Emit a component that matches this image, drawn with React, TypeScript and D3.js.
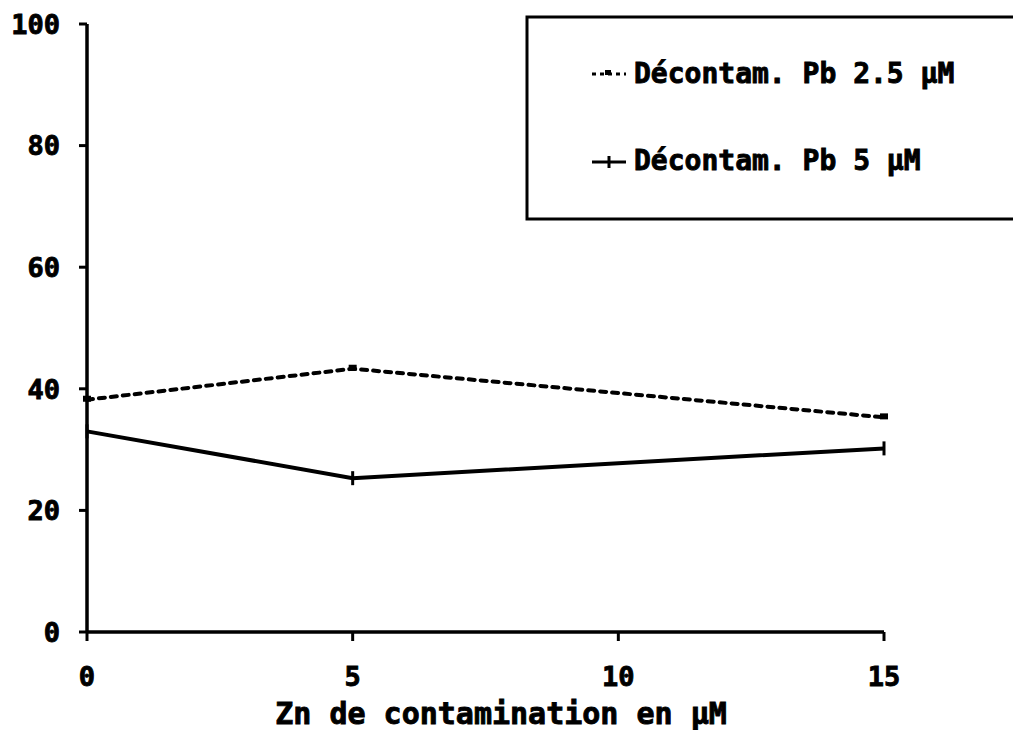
import React from "react";
import * as d3 from "d3";

const xValues = [0, 5, 15];
const seriesDashed = [38.2, 43.3, 35.3];
const seriesSolid = [33, 25.3, 30.2];
const xTicks = [0, 5, 10, 15];
const yTicks = [0, 20, 40, 60, 80, 100];
const legendLabels = ["Décontam. Pb 2.5 µM", "Décontam. Pb 5 µM"];
const xTitle = "Zn de contamination en µM";

const FONT = "'DejaVu Sans Mono', monospace";
const textStyle = { fontFamily: FONT, fontWeight: "bold" as const, fill: "#000", stroke: "#000", strokeWidth: 0.9 };

export default function App() {
  const W = 1013, H = 730;
  const x = d3.scaleLinear().domain([0, 15]).range([87, 884]);
  const y = d3.scaleLinear().domain([0, 100]).range([632, 24]);
  const line = d3.line<number>().x((_, i) => x(xValues[i])).y((d) => y(d));

  return (
    <svg width={W} height={H} style={{ position: "absolute", left: 0, top: 0, background: "#fff" }}>
      {/* axes */}
      <line x1={x(0)} x2={x(0)} y1={y(100)} y2={y(0)} stroke="#000" strokeWidth={3.5} />
      <line x1={x(0)} x2={x(15)} y1={y(0)} y2={y(0)} stroke="#000" strokeWidth={3.5} />
      {yTicks.map((t) => (
        <g key={"y" + t}>
          <line x1={x(0) - 8} x2={x(0)} y1={y(t)} y2={y(t)} stroke="#000" strokeWidth={3} />
          <text x={60} y={y(t)} dy="0.36em" textAnchor="end" fontSize={27} style={textStyle}>
            {t}
          </text>
        </g>
      ))}
      {xTicks.map((t) => (
        <g key={"x" + t}>
          <line x1={x(t)} x2={x(t)} y1={y(0)} y2={y(0) + 9} stroke="#000" strokeWidth={3} />
          <text x={x(t)} y={676} dy="0.36em" textAnchor="middle" fontSize={27} style={textStyle}>
            {t}
          </text>
        </g>
      ))}
      <text x={501} y={713} dy="0.36em" textAnchor="middle" fontSize={30} style={textStyle}>
        {xTitle}
      </text>

      {/* series */}
      <path d={line(seriesDashed) || ""} fill="none" stroke="#000" strokeWidth={4} strokeDasharray="6 6" strokeLinecap="round" />
      {seriesDashed.map((v, i) => (
        <rect key={"d" + i} x={x(xValues[i]) - 4} y={y(v) - 4} width={8} height={6} fill="#000" />
      ))}
      <path d={line(seriesSolid) || ""} fill="none" stroke="#000" strokeWidth={4} />
      {seriesSolid.map((v, i) => (
        <line key={"s" + i} x1={x(xValues[i])} x2={x(xValues[i])} y1={y(v) - 7} y2={y(v) + 7} stroke="#000" strokeWidth={3} />
      ))}

      {/* legend */}
      <rect x={527} y={17} width={500} height={202} fill="#fff" stroke="#000" strokeWidth={3} />
      <line x1={592} x2={626} y1={74} y2={74} stroke="#000" strokeWidth={3} strokeDasharray="4 4" />
      <rect x={605} y={70} width={6} height={5} fill="#000" />
      <text x={634} y={73} dy="0.36em" fontSize={28} style={textStyle}>
        {legendLabels[0]}
      </text>
      <line x1={592} x2={626} y1={162} y2={162} stroke="#000" strokeWidth={3} />
      <line x1={609} x2={609} y1={156} y2={168} stroke="#000" strokeWidth={3} />
      <text x={634} y={160} dy="0.36em" fontSize={28} style={textStyle}>
        {legendLabels[1]}
      </text>
    </svg>
  );
}
